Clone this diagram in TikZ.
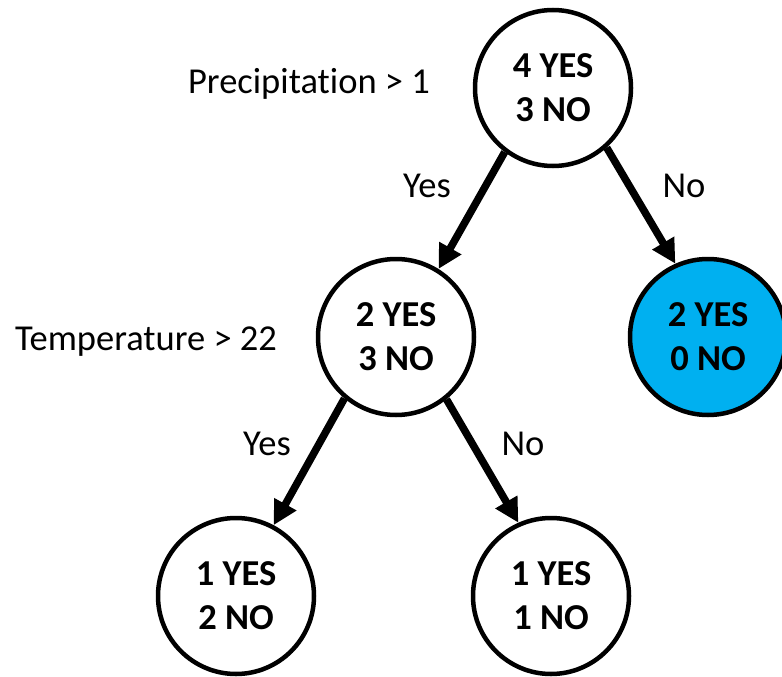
\documentclass[tikz,border=0pt]{standalone}
\usepackage{fontspec}
\setmainfont[Ligatures=NoCommon]{Carlito}
\usetikzlibrary{arrows.meta}
\definecolor{leafblue}{RGB}{0,176,240}
\begin{document}
\begin{tikzpicture}[x=1pt,y=-1pt,
  split/.style={circle, draw=black, line width=4.5pt, minimum size=156pt,
    inner sep=0pt, fill=white, align=center,
    font=\fontsize{36.5}{44}\selectfont\bfseries},
  leaf/.style={split, fill=leafblue},
  edge/.style={line width=7.5pt, -{Triangle[length=24pt,width=24pt]}},
  cond/.style={font=\fontsize{36.5}{42}\selectfont, anchor=base, inner sep=0pt}]
\useasboundingbox (0,0) rectangle (782,677);

% tree nodes
\node[split] (root) at (553,88) {4 YES\\3 NO};
\node[split] (temp) at (396,337) {2 YES\\3 NO};
\node[leaf]  (dry)  at (708,337) {2 YES\\0 NO};
\node[split] (warm) at (236,596) {1 YES\\2 NO};
\node[split] (cool) at (551,596) {1 YES\\1 NO};

% split conditions
\node[cond] (q1) at (309,93) {Precipitation > 1};
\node[cond] (q2) at (146,350) {Temperature > 22};

% branches
\draw[edge] (root.-127) -- (temp.58);
\draw[edge] (root.-48) -- (dry.114);
\draw[edge] (temp.-130) -- (warm.62);
\draw[edge] (temp.-51) -- (cool.114);

% branch labels
\node[cond] (y1) at (427,197) {Yes};
\node[cond] (n1) at (684,197) {No};
\node[cond] (y2) at (267,455) {Yes};
\node[cond] (n2) at (523,455) {No};
\end{tikzpicture}
\end{document}
